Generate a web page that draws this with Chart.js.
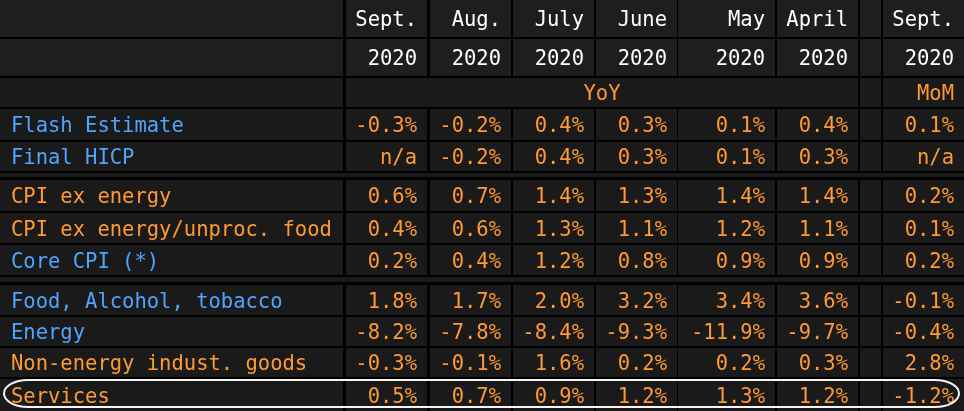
<!DOCTYPE html>
<html>
<head>
<meta charset="utf-8">
<script src="https://cdn.jsdelivr.net/npm/chart.js@4"></script>
<style>
  html, body { margin: 0; padding: 0; background: #000; }
  #wrap { width: 964px; height: 411px; position: relative; }
</style>
</head>
<body>
<div id="wrap"><canvas id="hicpTable"></canvas></div>
<script>
document.addEventListener('DOMContentLoaded', () => {

    // --- DATA ---
    const months = ['Sept.', 'Aug.', 'July', 'June', 'May', 'April', '', 'Sept.'];
    const years = ['2020', '2020', '2020', '2020', '2020', '2020', '', '2020'];
    const groupYoY = 'YoY';
    const groupMoM = 'MoM';

    const rowLabels = [
        'Flash Estimate', 'Final HICP',
        'CPI ex energy', 'CPI ex energy/unproc. food', 'Core CPI (*)',
        'Food, Alcohol, tobacco', 'Energy', 'Non-energy indust. goods', 'Services'
    ];
    // YoY: Sept, Aug, July, June, May, April ; MoM: Sept (null = n/a)
    const flashEstimate  = [-0.3, -0.2, 0.4, 0.3, 0.1, 0.4];
    const finalHicp      = [null, -0.2, 0.4, 0.3, 0.1, 0.3];
    const cpiExEnergy    = [0.6, 0.7, 1.4, 1.3, 1.4, 1.4];
    const cpiExEnergyFood = [0.4, 0.6, 1.3, 1.1, 1.2, 1.1];
    const coreCpi        = [0.2, 0.4, 1.2, 0.8, 0.9, 0.9];
    const foodAlcohol    = [1.8, 1.7, 2.0, 3.2, 3.4, 3.6];
    const energy         = [-8.2, -7.8, -8.4, -9.3, -11.9, -9.7];
    const nonEnergyGoods = [-0.3, -0.1, 1.6, 0.2, 0.2, 0.3];
    const services       = [0.5, 0.7, 0.9, 1.2, 1.3, 1.2];
    const momSept        = [0.1, null, 0.2, 0.1, 0.2, -0.1, -0.4, 2.8, -1.2];

    const rowSeries = [flashEstimate, finalHicp, cpiExEnergy, cpiExEnergyFood, coreCpi,
                       foodAlcohol, energy, nonEnergyGoods, services];

    // --- LAYOUT / STYLE (not data) ---
    const colEdges = [[0, 343], [346, 427], [430, 511], [513, 594], [596, 677],
                      [678, 775], [777, 858], [860, 881], [883, 964]];
    const headRows = [[0, 37], [39, 76], [78, 107]];
    const bodyRows = [[109, 140], [142, 171], [180, 211], [213, 243], [245, 275],
                      [285, 315], [317, 346], [348, 377], [379, 411]];
    const separators = [[173, 177], [277, 282]];
    const labelTone = ['blue', 'blue', 'orange', 'orange', 'blue', 'blue', 'blue', 'orange', 'orange'];
    const highlightRow = 8;

    const COLORS = { blue: '#4ea5ff', orange: '#ff9a33', white: '#ffffff',
                     head: '#1e1e1e', cell: '#1a1a1a', ring: '#f4f4f4' };
    const FONT = '20.5px "DejaVu Sans Mono", monospace';

    const fmt = v => (v === null ? 'n/a' : v.toFixed(1) + '%');

    const tablePlugin = {
        id: 'tablePlugin',
        beforeDatasetsDraw(chart) {
            const { ctx, scales: { x, y } } = chart;
            const px = v => x.getPixelForValue(v);
            const py = v => y.getPixelForValue(v);
            const rect = (x0, x1, y0, y1, color) => {
                ctx.fillStyle = color;
                ctx.fillRect(px(x0), py(y0), px(x1) - px(x0), py(y1) - py(y0));
            };
            ctx.save();
            // header cells
            headRows.forEach((r, ri) => {
                if (ri < 2) {
                    colEdges.forEach(c => rect(c[0], c[1], r[0], r[1], COLORS.head));
                } else {
                    rect(colEdges[0][0], colEdges[0][1], r[0], r[1], COLORS.cell);
                    rect(colEdges[1][0], colEdges[6][1], r[0], r[1], COLORS.cell);
                    rect(colEdges[7][0], colEdges[7][1], r[0], r[1], COLORS.cell);
                    rect(colEdges[8][0], colEdges[8][1], r[0], r[1], COLORS.cell);
                }
            });
            bodyRows.forEach(r => colEdges.forEach(c => rect(c[0], c[1], r[0], r[1], COLORS.cell)));
            separators.forEach(s => rect(0, 964, s[0], s[1], COLORS.cell));

            // text
            ctx.font = FONT;
            ctx.textBaseline = 'alphabetic';
            const base = r => py((r[0] + r[1]) / 2) + 7.5;
            const right = c => px(colEdges[c][1]) - 10;

            ctx.fillStyle = COLORS.white;
            ctx.textAlign = 'right';
            months.forEach((m, i) => { if (m) ctx.fillText(m, right(i + 1), base(headRows[0])); });
            years.forEach((m, i) => { if (m) ctx.fillText(m, right(i + 1), base(headRows[1])); });

            ctx.fillStyle = COLORS.orange;
            ctx.textAlign = 'center';
            ctx.fillText(groupYoY, (px(colEdges[1][0]) + px(colEdges[6][1])) / 2, base(headRows[2]));
            ctx.textAlign = 'right';
            ctx.fillText(groupMoM, right(8), base(headRows[2]));

            rowLabels.forEach((label, ri) => {
                const r = bodyRows[ri];
                ctx.textAlign = 'left';
                ctx.fillStyle = COLORS[labelTone[ri]];
                ctx.fillText(label, px(11), base(r));
                ctx.textAlign = 'right';
                ctx.fillStyle = COLORS.orange;
                rowSeries[ri].forEach((v, ci) => ctx.fillText(fmt(v), right(ci + 1), base(r)));
                ctx.fillText(fmt(momSept[ri]), right(8), base(r));
            });

            // ring around highlighted row
            const hr = bodyRows[highlightRow];
            const cy = py((hr[0] + hr[1]) / 2) - 1.5;
            const ry = 13.5, rx = 24;
            const xl = px(4) + rx, xr = px(959) - rx;
            ctx.strokeStyle = COLORS.ring;
            ctx.lineWidth = 2;
            ctx.beginPath();
            ctx.moveTo(xl, cy - ry);
            ctx.lineTo(xr, cy - ry);
            ctx.ellipse(xr, cy, rx, ry, 0, -Math.PI / 2, Math.PI / 2);
            ctx.lineTo(xl, cy + ry);
            ctx.ellipse(xl, cy, rx, ry, 0, Math.PI / 2, Math.PI * 1.5);
            ctx.closePath();
            ctx.stroke();
            ctx.restore();
        }
    };

    new Chart(document.getElementById('hicpTable'), {
        type: 'scatter',
        data: { datasets: [] },
        options: {
            responsive: true,
            maintainAspectRatio: false,
            animation: false,
            layout: { padding: 0 },
            scales: {
                x: { type: 'linear', min: 0, max: 964, display: false },
                y: { type: 'linear', min: 0, max: 411, reverse: true, display: false }
            },
            plugins: { legend: { display: false }, tooltip: { enabled: false } }
        },
        plugins: [tablePlugin]
    });
});
</script>
</body>
</html>
